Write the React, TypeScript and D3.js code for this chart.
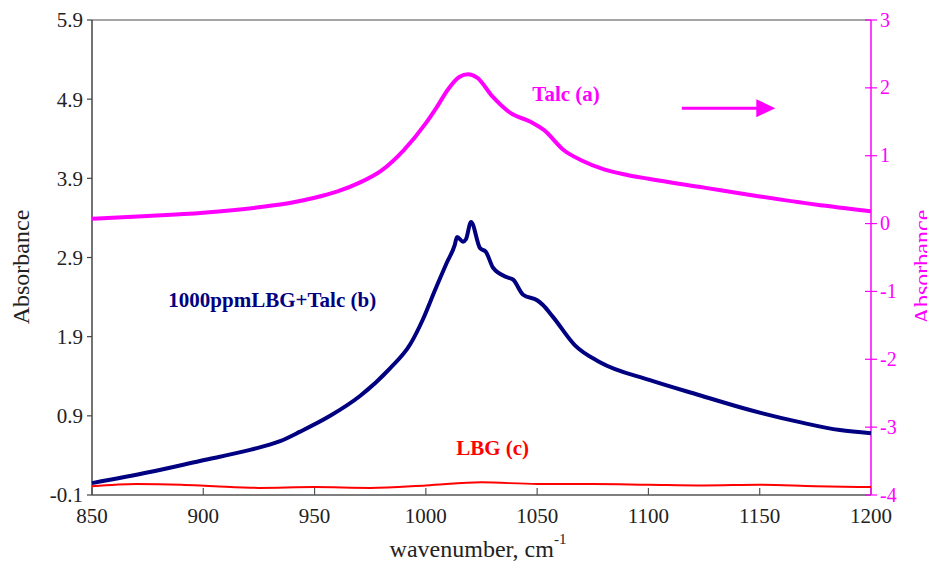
import React from 'react';
import * as d3 from 'd3';

// Talc (a) — right axis
const talcWn = [850, 875, 900, 925, 940, 950, 960, 970, 980, 990, 1000, 1005, 1010, 1015, 1019, 1023, 1030, 1038, 1047, 1053, 1062, 1070, 1080, 1090, 1100, 1125, 1150, 1175, 1200];
const talcAbs = [0.07, 0.11, 0.16, 0.24, 0.31, 0.38, 0.47, 0.6, 0.78, 1.08, 1.48, 1.72, 1.98, 2.16, 2.2, 2.15, 1.87, 1.63, 1.5, 1.38, 1.08, 0.93, 0.8, 0.72, 0.66, 0.53, 0.4, 0.28, 0.18];

// 1000ppmLBG+Talc (b) — left axis
const mixWn = [850, 876, 898.5, 921, 934.5, 943.5, 957, 970.4, 983.9, 992.9, 998.7, 1004, 1009.5, 1013, 1014, 1016.7, 1018, 1020.3, 1024.3, 1027, 1030.2, 1036.5, 1039.2, 1043.7, 1050, 1052.6, 1057.1, 1067, 1078, 1100.7, 1123, 1146, 1168, 1186, 1200];
const mixAbs = [0.05, 0.19, 0.33, 0.47, 0.58, 0.7, 0.9, 1.15, 1.5, 1.8, 2.12, 2.48, 2.84, 3.06, 3.16, 3.1, 3.13, 3.35, 3.02, 2.97, 2.77, 2.65, 2.62, 2.43, 2.36, 2.3, 2.15, 1.79, 1.58, 1.35, 1.16, 0.97, 0.82, 0.72, 0.68];

// LBG (c) — left axis
const lbgWn = [850, 870, 890, 905, 925, 950, 975, 1000, 1025, 1050, 1075, 1100, 1125, 1150, 1175, 1200];
const lbgAbs = [0.01, 0.04, 0.03, 0.01, -0.01, 0.0, -0.01, 0.02, 0.06, 0.04, 0.04, 0.03, 0.02, 0.03, 0.01, 0.0];

const xTicks = [850, 900, 950, 1000, 1050, 1100, 1150, 1200];
const leftTicks = [-0.1, 0.9, 1.9, 2.9, 3.9, 4.9, 5.9];
const rightTicks = [-4, -3, -2, -1, 0, 1, 2, 3];

export default function App() {
  const W = 927, H = 564;
  const m = { l: 92, r: 56, t: 20, b: 69 };
  const x = d3.scaleLinear().domain([850, 1200]).range([m.l, W - m.r]);
  const yL = d3.scaleLinear().domain([-0.1, 5.9]).range([H - m.b, m.t]);
  const yR = d3.scaleLinear().domain([-4, 3]).range([H - m.b, m.t]);

  const lineR = d3.line<number>().x((_, i) => x(talcWn[i])).y(d => yR(d)).curve(d3.curveMonotoneX);
  const lineMix = d3.line<number>().x((_, i) => x(mixWn[i])).y(d => yL(d)).curve(d3.curveMonotoneX);
  const lineLbg = d3.line<number>().x((_, i) => x(lbgWn[i])).y(d => yL(d)).curve(d3.curveMonotoneX);

  const x0 = x(850), x1 = x(1200), yb = yL(-0.1), yt = yL(5.9);
  const font = '"Liberation Serif", "Times New Roman", serif';
  const magenta = '#FF00FF';

  // arrow annotation in data coords
  const ax0 = x(1115), ax1 = x(1157), ay = yR(1.7);

  return (
    <svg width={W} height={H} style={{ position: 'absolute', left: 0, top: 0, background: '#fff' }} fontFamily={font}>
      <rect x={0} y={0} width={W} height={H} fill="#fff" />
      {/* frame */}
      <line x1={x0} y1={yt} x2={x1} y2={yt} stroke="#888" strokeWidth={1.5} />
      <line x1={x0} y1={yb} x2={x1} y2={yb} stroke="#555" strokeWidth={1.5} />
      <line x1={x0} y1={yt} x2={x0} y2={yb} stroke="#444" strokeWidth={1.5} />
      {/* x ticks */}
      {xTicks.map(t => (
        <g key={t}>
          <line x1={x(t)} x2={x(t)} y1={yb} y2={yb - 7} stroke="#555" strokeWidth={1.2} />
          <text x={x(t)} y={yb + 28} textAnchor="middle" fontSize={21} fill="#222">{t}</text>
        </g>
      ))}
      {/* left ticks */}
      {leftTicks.map(t => (
        <g key={t}>
          <line x1={x0 - 5} x2={x0} y1={yL(t)} y2={yL(t)} stroke="#444" strokeWidth={1.2} />
          <text x={x0 - 9} y={yL(t)} dy="0.35em" textAnchor="end" fontSize={21} fill="#222">{t.toFixed(1)}</text>
        </g>
      ))}
      {/* right axis */}
      <line x1={x1} y1={yt} x2={x1} y2={yb} stroke={magenta} strokeWidth={1.5} />
      {rightTicks.map(t => (
        <g key={t}>
          <line x1={x1 - 6} x2={x1 + 6} y1={yR(t)} y2={yR(t)} stroke={magenta} strokeWidth={1.2} />
          <text x={x1 + 9} y={yR(t)} dy="0.33em" textAnchor="start" fontSize={20} fill={magenta}>{t}</text>
        </g>
      ))}
      {/* series */}
      <path d={lineLbg(lbgAbs) || ''} fill="none" stroke="#FF0000" strokeWidth={2} />
      <path d={lineMix(mixAbs) || ''} fill="none" stroke="#000080" strokeWidth={4} strokeLinejoin="round" />
      <path d={lineR(talcAbs) || ''} fill="none" stroke={magenta} strokeWidth={4} strokeLinejoin="round" />
      {/* labels */}
      <text x={x(1063)} y={yR(1.8)} textAnchor="middle" fontSize={21} fontWeight="bold" fill={magenta}>Talc (a)</text>
      <text x={x(931)} y={yL(2.27)} textAnchor="middle" fontSize={21} fontWeight="bold" fill="#000080">1000ppmLBG+Talc (b)</text>
      <text x={x(1030)} y={yL(0.4)} textAnchor="middle" fontSize={21} fontWeight="bold" fill="#FF0000">LBG (c)</text>
      {/* arrow */}
      <line x1={ax0} y1={ay} x2={ax1 - 16} y2={ay} stroke={magenta} strokeWidth={3} />
      <path d={`M${ax1 - 19},${ay - 9} L${ax1},${ay} L${ax1 - 19},${ay + 9} Z`} fill={magenta} />
      {/* axis titles */}
      <text transform={`translate(29,267) rotate(-90)`} textAnchor="middle" fontSize={24} fill="#222">Absorbance</text>
      <text transform={`translate(930,267) rotate(-90)`} textAnchor="middle" fontSize={24} fill={magenta}>Absorbance</text>
      <text x={478} y={557} textAnchor="middle" fontSize={24} fill="#222">
        wavenumber, cm<tspan dy={-13} fontSize={15}>-1</tspan>
      </text>
    </svg>
  );
}
